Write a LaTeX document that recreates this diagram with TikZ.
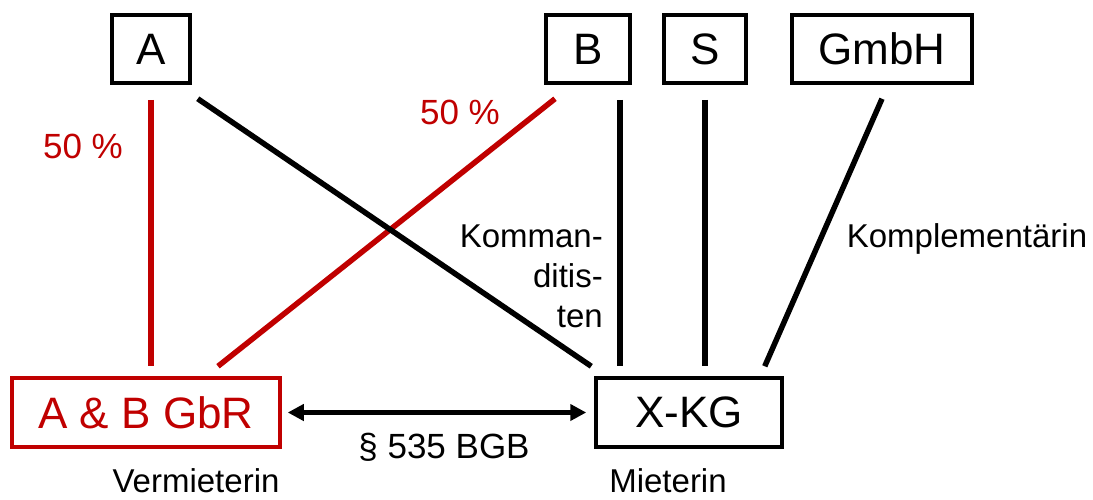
\documentclass[tikz,border=0pt]{standalone}
\usepackage{fontspec}
\setmainfont{Liberation Sans}
\usetikzlibrary{arrows.meta, positioning}
\definecolor{gbrred}{RGB}{192, 0, 0}
\tikzset{
  party/.style    = {rectangle, draw=black, line width=3.5pt, inner sep=0pt, minimum height=68pt, font=\fontsize{44}{48}\selectfont},
  partyred/.style = {party, draw=gbrred, text=gbrred},
  link/.style     = {line width=5.5pt, black},
  share/.style    = {line width=5.5pt, gbrred},
  lease/.style    = {{Triangle[length=16pt, width=16pt]}-{Triangle[length=16pt, width=16pt]}, line width=5pt, black},
  lbl/.style      = {font=\fontsize{33}{40}\selectfont, inner sep=0pt},
  pct/.style      = {font=\fontsize{35}{40}\selectfont, text=gbrred, inner sep=0pt},
}

\begin{document}
\begin{tikzpicture}[x=1pt, y=-1pt]
\useasboundingbox (0,0) rectangle (1093,499);

% Gesellschafter oben
\node[party, minimum width=78pt]  (A)    at (151,49) {A};
\node[party, minimum width=84pt]  (B)    at (588,49) {B};
\node[party, minimum width=82pt]  (S)    at (705,49) {S};
\node[party, minimum width=180pt] (GmbH) at (882,49) {GmbH};

% Vermieterin und Mieterin
\node[partyred, minimum width=268pt, minimum height=69pt] (GbR) at (146,412.5) {A \& B GbR};
\node[party, minimum width=186pt, minimum height=69pt]    (KG)  at (689,412.5) {X-KG};

% Beteiligungen an der GbR
\draw[share, shorten <=15pt, shorten >=10pt] (A.south) -- (A.south |- GbR.north);
\draw[share] ([xshift=-33pt, yshift=-14pt]B.south) -- ([xshift=72pt, yshift=10pt]GbR.north);

% Beteiligungen an der KG
\coordinate (Bfoot) at ([xshift=-12pt]B.south east);
\draw[link] ([xshift=6pt, yshift=-14pt]A.south east) -- ([xshift=-3pt, yshift=10pt]KG.north west);
\draw[link, shorten <=15pt, shorten >=10pt] (Bfoot) -- (Bfoot |- KG.north);
\draw[link, shorten <=15pt, shorten >=10pt] (S.south) -- (S.south |- KG.north);
\draw[link] ([yshift=-14pt]GmbH.south) -- ([xshift=-19pt, yshift=10pt]KG.north east);

% Mietvertrag
\draw[lease, shorten <=6pt, shorten >=8pt] (GbR.east) -- (KG.west);

% Beschriftungen
\node[pct, anchor=base] (shareA) at (83,158)  {50 \%};
\node[pct, anchor=base] (shareB) at (460,124) {50 \%};
\node[lbl, anchor=north east, align=right] (kommandit) at (603,225) {Komman-\\ditis-\\ten};
\node[lbl, anchor=base] (komplementaer) at (967,247) {Komplementärin};
\node[lbl, anchor=base, font=\fontsize{35}{40}\selectfont] (bgb) at (444,458) {§ 535 BGB};
\node[lbl, anchor=base] (vermieter) at (196,492) {Vermieterin};
\node[lbl, anchor=base] (mieter)    at (668,492) {Mieterin};

\end{tikzpicture}
\end{document}
